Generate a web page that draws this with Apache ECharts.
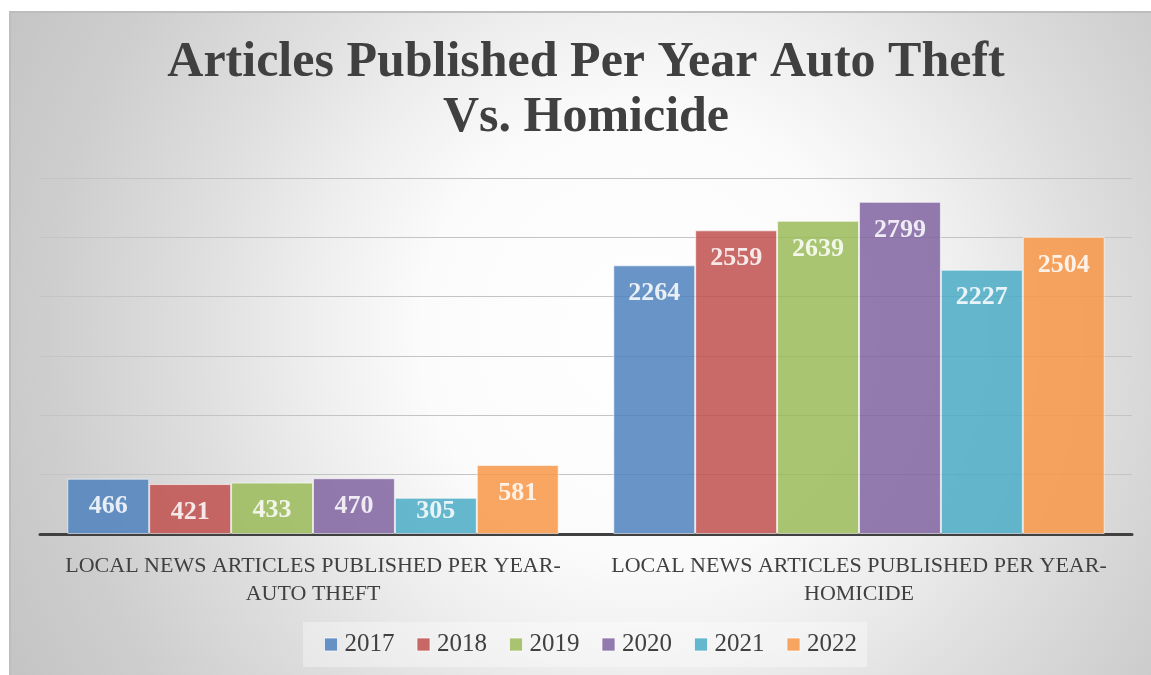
<!DOCTYPE html>
<html>
<head>
<meta charset="utf-8">
<script src="https://cdn.jsdelivr.net/npm/echarts@6/dist/echarts.min.js"></script>
<style>
  html, body { margin: 0; padding: 0; background: #ffffff; }
  #chart { width: 1151px; height: 675px; }
</style>
</head>
<body>
<div id="chart"></div>
<script>
// Categories on the x axis
const categories = [
  'LOCAL NEWS ARTICLES PUBLISHED PER YEAR-AUTO THEFT',
  'LOCAL NEWS ARTICLES PUBLISHED PER YEAR-HOMICIDE'
];
// One series per year
const years = ['2017', '2018', '2019', '2020', '2021', '2022'];
// Article counts per year, by topic
const autoTheft = [466, 421, 433, 470, 305, 581];
const homicide = [2264, 2559, 2639, 2799, 2227, 2504];
const colors = ['#4F81BD', '#C0504D', '#9BBB59', '#8064A2', '#4BACC6', '#F79646'];

const serif = '"Liberation Serif", "DejaVu Serif", serif';
const textColor = '#404040';
const yMax = 3000;

// Short bars get their value label pulled up so it stays inside the bar
function barItem(v) {
  const short = v < 400;
  return { value: v, label: { distance: short ? 0 : 15 } };
}

const series = years.map((y, i) => ({
  name: y,
  type: 'bar',
  data: [barItem(autoTheft[i]), barItem(homicide[i])],
  barGap: 0,
  barCategoryGap: '10%',
  itemStyle: {
    color: colors[i],
    opacity: 0.85,
    borderColor: 'rgba(255,255,255,0.7)',
    borderWidth: 1
  },
  label: {
    show: true,
    position: 'insideTop',
    distance: 15,
    color: '#ffffff',
    fontFamily: serif,
    fontWeight: 'bold',
    fontSize: 26
  }
}));

const chart = echarts.init(document.getElementById('chart'), null, { renderer: 'canvas' });
chart.setOption({
  animation: false,
  backgroundColor: '#ffffff',
  graphic: [{
    type: 'rect',
    left: 9,
    top: 11,
    z: -10,
    silent: true,
    shape: { width: 1150, height: 672 },
    style: {
      fill: new echarts.graphic.RadialGradient(0.55, 0.48, 1.1, [
        { offset: 0, color: '#ffffff' },
        { offset: 0.3, color: '#fbfbfb' },
        { offset: 0.45, color: '#eeeeee' },
        { offset: 0.6, color: '#dfdfdf' },
        { offset: 0.8, color: '#cecece' },
        { offset: 1, color: '#c2c2c2' }
      ]),
      stroke: '#bdbdbd',
      lineWidth: 2
    }
  }],
  title: {
    text: 'Articles Published Per Year Auto Theft\nVs. Homicide',
    left: 586,
    top: 36,
    textAlign: 'center',
    padding: 0,
    textStyle: {
      fontFamily: serif,
      fontWeight: 'bold',
      fontSize: 50,
      lineHeight: 55,
      color: textColor
    }
  },
  legend: {
    data: years,
    left: 303,
    top: 622,
    padding: [10, 10, 10, 21],
    backgroundColor: 'rgba(255,255,255,0.35)',
    icon: 'rect',
    itemWidth: 13,
    itemHeight: 13,
    itemGap: 22,
    itemStyle: { borderColor: 'rgba(255,255,255,0.8)', borderWidth: 1 },
    textStyle: {
      fontFamily: serif,
      fontSize: 25,
      color: textColor,
      padding: [0, 0, 0, 2]
    }
  },
  grid: { left: 40, right: 19, top: 178, bottom: 141 },
  xAxis: {
    type: 'category',
    data: categories,
    axisLine: { lineStyle: { color: '#404040', width: 3 } },
    axisTick: { show: false },
    axisLabel: {
      interval: 0,
      margin: 18,
      fontFamily: serif,
      fontSize: 22,
      lineHeight: 28,
      color: textColor,
      formatter: v => v.replace('YEAR-', 'YEAR-\n')
    }
  },
  yAxis: {
    type: 'value',
    min: 0,
    max: yMax,
    interval: 500,
    axisLabel: { show: false },
    axisLine: { show: false },
    axisTick: { show: false },
    splitLine: { lineStyle: { color: '#c4c4c4', width: 1 } }
  },
  series: series
});
</script>
</body>
</html>
